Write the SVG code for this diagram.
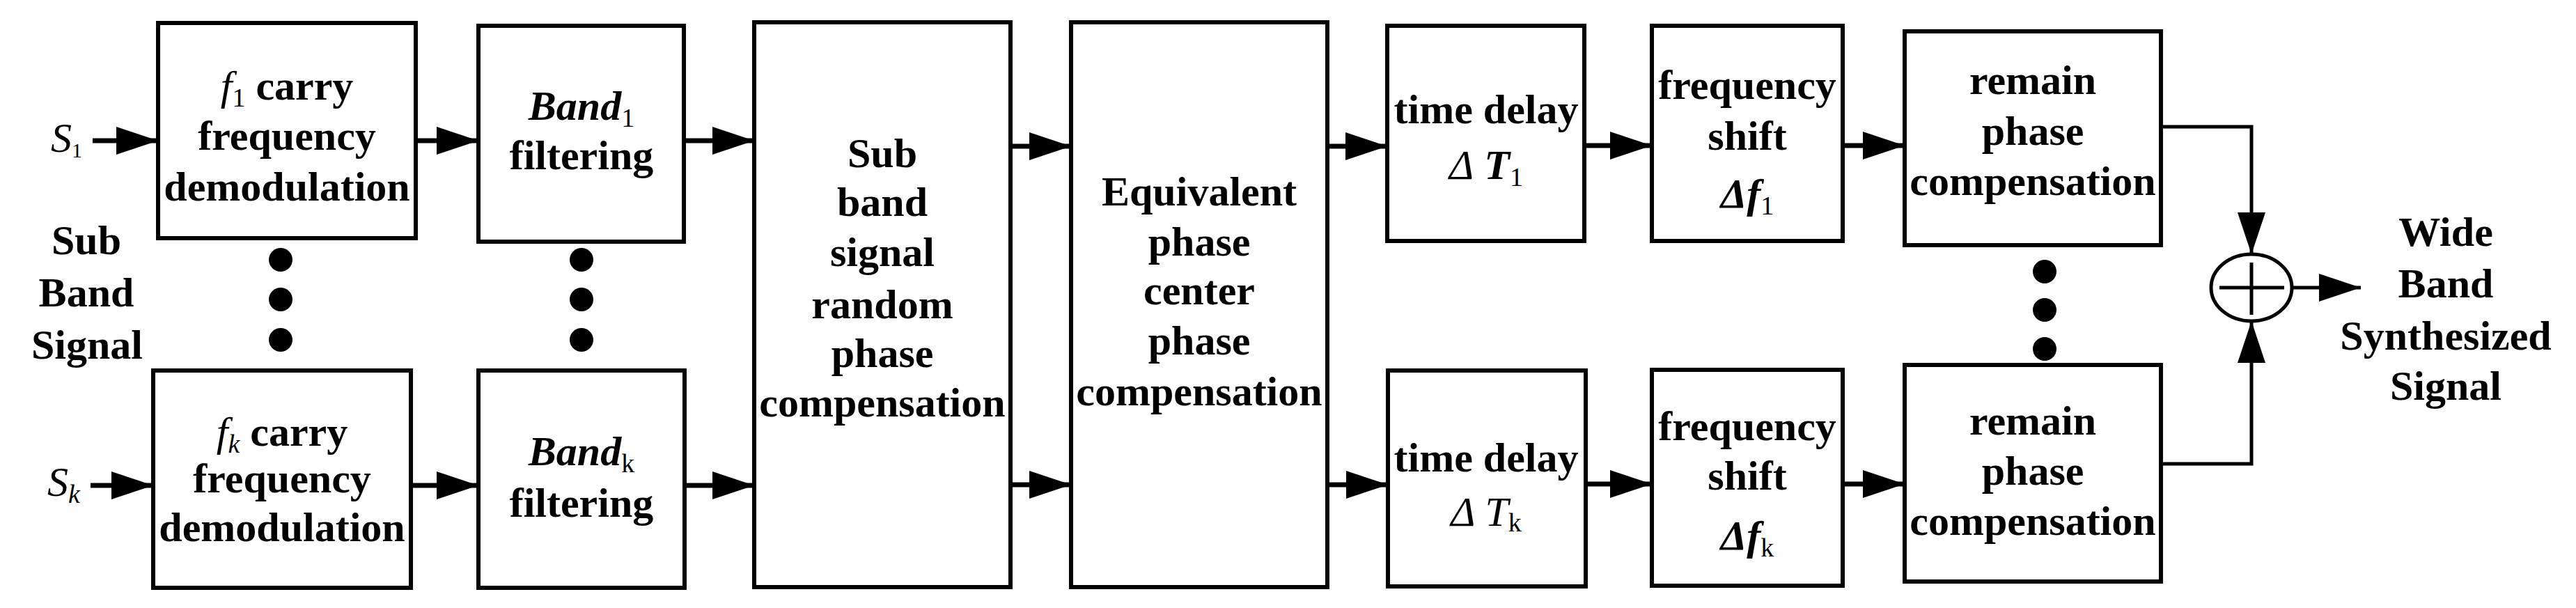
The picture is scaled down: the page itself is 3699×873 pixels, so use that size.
<svg xmlns="http://www.w3.org/2000/svg" width="3699" height="873" viewBox="0 0 3699 873">
<style>
.box{fill:#fff;stroke:#000;stroke-width:6}
.t{font-family:"Liberation Serif","Times New Roman",serif;font-weight:bold;font-size:60px;text-anchor:middle;fill:#000}
.lbl{font-family:"Liberation Serif","Times New Roman",serif;font-size:60px;fill:#000}
.i{font-style:italic}
.n{font-weight:normal}
.sub{font-size:38px;font-weight:normal}
.ssub{font-size:30px;font-weight:normal}
.ln{stroke:#000;stroke-width:7;fill:none}
.ln2{stroke:#000;stroke-width:5;fill:none}
.dot{fill:#000}
</style>
<defs>
<marker id="ah" markerUnits="userSpaceOnUse" markerWidth="60" markerHeight="40" refX="60" refY="20" orient="auto">
<path d="M0,0 L60,20 L0,40 Z" fill="#000"/>
</marker>
</defs>
<rect width="3699" height="873" fill="#fff"/>

<g id="labels">
<text class="lbl" x="73" y="218"><tspan class="i">S</tspan><tspan class="ssub" dy="8">1</tspan></text>
<text class="lbl" x="68" y="712"><tspan class="i">S</tspan><tspan class="sub i" dy="10">k</tspan></text>
<text class="t" x="124" y="365">Sub</text>
<text class="t" x="124" y="440">Band</text>
<text class="t" x="125" y="515">Signal</text>
<text class="t" x="3512" y="353">Wide</text>
<text class="t" x="3512" y="427">Band</text>
<text class="t" x="3512" y="502">Synthesized</text>
<text class="t" x="3512" y="574">Signal</text>
</g>

<g id="node-f1">
<rect class="box" x="227" y="33" width="370" height="309"/>
<text class="t" x="412" y="143"><tspan class="i n">f</tspan><tspan class="sub" dy="10">1</tspan><tspan dy="-10"> carry</tspan></text>
<text class="t" x="412" y="215">frequency</text>
<text class="t" x="412" y="288">demodulation</text>
</g>
<g id="node-fk">
<rect class="box" x="220" y="532" width="370" height="312"/>
<text class="t" x="405" y="640"><tspan class="i n">f</tspan><tspan class="sub i" dy="10">k</tspan><tspan dy="-10"> carry</tspan></text>
<text class="t" x="405" y="707">frequency</text>
<text class="t" x="405" y="777">demodulation</text>
</g>
<g id="node-band1">
<rect class="box" x="687" y="37" width="295" height="310"/>
<text class="t" x="835" y="172"><tspan class="i">Band</tspan><tspan class="sub" dy="10">1</tspan></text>
<text class="t" x="835" y="243">filtering</text>
</g>
<g id="node-bandk">
<rect class="box" x="687" y="532" width="296" height="312"/>
<text class="t" x="835" y="668"><tspan class="i">Band</tspan><tspan class="sub" dy="10">k</tspan></text>
<text class="t" x="835" y="742">filtering</text>
</g>
<g id="node-subband">
<rect class="box" x="1083" y="32" width="368" height="811"/>
<text class="t" x="1267" y="240">Sub</text>
<text class="t" x="1267" y="310">band</text>
<text class="t" x="1267" y="382">signal</text>
<text class="t" x="1267" y="457">random</text>
<text class="t" x="1267" y="527">phase</text>
<text class="t" x="1267" y="598">compensation</text>
</g>
<g id="node-equiv">
<rect class="box" x="1538" y="32" width="368" height="811"/>
<text class="t" x="1722" y="295">Equivalent</text>
<text class="t" x="1722" y="367">phase</text>
<text class="t" x="1722" y="437">center</text>
<text class="t" x="1722" y="509">phase</text>
<text class="t" x="1722" y="582">compensation</text>
</g>
<g id="node-td1">
<rect class="box" x="1992" y="37" width="283" height="309"/>
<text class="t" x="2134" y="177">time delay</text>
<text class="t" x="2134" y="257"><tspan class="i n">Δ</tspan><tspan class="i"> T</tspan><tspan class="sub" dy="10">1</tspan></text>
</g>
<g id="node-tdk">
<rect class="box" x="1993" y="532" width="284" height="310"/>
<text class="t" x="2134" y="677">time delay</text>
<text class="t n" x="2134" y="755"><tspan class="i">Δ</tspan><tspan class="i"> T</tspan><tspan class="sub" font-size="44" dy="8">k</tspan></text>
</g>
<g id="node-fs1">
<rect class="box" x="2372" y="37" width="274" height="309"/>
<text class="t" x="2509" y="142">frequency</text>
<text class="t" x="2509" y="215">shift</text>
<text class="t" x="2509" y="298"><tspan class="i">Δf</tspan><tspan class="sub" dy="10">1</tspan></text>
</g>
<g id="node-fsk">
<rect class="box" x="2372" y="531" width="274" height="310"/>
<text class="t" x="2509" y="632">frequency</text>
<text class="t" x="2509" y="703">shift</text>
<text class="t" x="2509" y="789"><tspan class="i">Δf</tspan><tspan class="sub" dy="10">k</tspan></text>
</g>
<g id="node-remain1">
<rect class="box" x="2735" y="45" width="368" height="307"/>
<text class="t" x="2919" y="135">remain</text>
<text class="t" x="2919" y="208">phase</text>
<text class="t" x="2919" y="280">compensation</text>
</g>
<g id="node-remaink">
<rect class="box" x="2735" y="524" width="368" height="311"/>
<text class="t" x="2919" y="624">remain</text>
<text class="t" x="2919" y="696">phase</text>
<text class="t" x="2919" y="768">compensation</text>
</g>
<g id="node-sum">
<ellipse cx="3233" cy="413" rx="58" ry="48" fill="#fff" stroke="#000" stroke-width="5"/>
<path d="M3187,413 H3280 M3233,377 V452" stroke="#000" stroke-width="5"/>
</g>
<g id="ellipsis">
<circle class="dot" cx="403" cy="373" r="17"/>
<circle class="dot" cx="403" cy="430" r="17"/>
<circle class="dot" cx="403" cy="488" r="17"/>
<circle class="dot" cx="835" cy="373" r="17"/>
<circle class="dot" cx="835" cy="430" r="17"/>
<circle class="dot" cx="835" cy="488" r="17"/>
<circle class="dot" cx="2936" cy="390" r="17"/>
<circle class="dot" cx="2936" cy="445" r="17"/>
<circle class="dot" cx="2936" cy="501" r="17"/>
</g>

<g id="connectors">
<line class="ln" x1="133" y1="202" x2="227" y2="202" marker-end="url(#ah)"/>
<line class="ln" x1="597" y1="202" x2="687" y2="202" marker-end="url(#ah)"/>
<line class="ln" x1="982" y1="202" x2="1083" y2="202" marker-end="url(#ah)"/>
<line class="ln" x1="130" y1="697" x2="220" y2="697" marker-end="url(#ah)"/>
<line class="ln" x1="590" y1="697" x2="687" y2="697" marker-end="url(#ah)"/>
<line class="ln" x1="983" y1="697" x2="1083" y2="697" marker-end="url(#ah)"/>
<line class="ln" x1="1451" y1="210" x2="1538" y2="210" marker-end="url(#ah)"/>
<line class="ln" x1="1451" y1="696" x2="1538" y2="696" marker-end="url(#ah)"/>
<line class="ln" x1="1906" y1="210" x2="1992" y2="210" marker-end="url(#ah)"/>
<line class="ln" x1="1906" y1="696" x2="1993" y2="696" marker-end="url(#ah)"/>
<line class="ln" x1="2275" y1="209" x2="2372" y2="209" marker-end="url(#ah)"/>
<line class="ln" x1="2277" y1="695" x2="2372" y2="695" marker-end="url(#ah)"/>
<line class="ln" x1="2646" y1="209" x2="2735" y2="209" marker-end="url(#ah)"/>
<line class="ln" x1="2646" y1="695" x2="2735" y2="695" marker-end="url(#ah)"/>
<path class="ln2" d="M3103,182 H3233 V365" marker-end="url(#ah)"/>
<path class="ln2" d="M3103,666 H3233 V461" marker-end="url(#ah)"/>
<line class="ln2" x1="3291" y1="413" x2="3390" y2="413" marker-end="url(#ah)"/>
</g>
</svg>
